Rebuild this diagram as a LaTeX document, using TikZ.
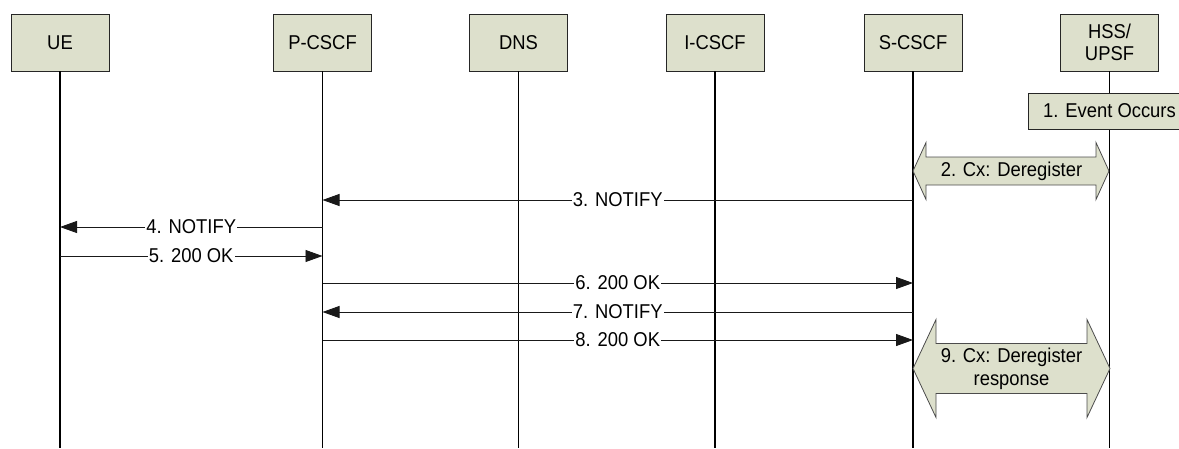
\documentclass[tikz,border=0pt]{standalone}
\usepackage{fontspec}
\setmainfont{Liberation Sans}[FakeStretch=0.92]
\usetikzlibrary{arrows.meta}
\definecolor{boxfill}{RGB}{221,224,204}
\newcommand\dblarr[6]{% x1, x2, y, head half-height, shaft half-height, head length
  \draw[dbl] (#1,#3) -- (#1+#6,#3-#4) -- (#1+#6,#3-#5) -- (#2-#6,#3-#5) -- (#2-#6,#3-#4)
    -- (#2,#3) -- (#2-#6,#3+#4) -- (#2-#6,#3+#5) -- (#1+#6,#3+#5) -- (#1+#6,#3+#4) -- cycle;}
\begin{document}
\begin{tikzpicture}[x=1pt,y=-1pt,
  entity/.style={draw=black!85, fill=boxfill, minimum width=98pt, minimum height=57pt,
    inner sep=0pt, align=center, font=\fontsize{20}{22}\selectfont},
  life/.style={draw=black, line width=1.3pt},
  msg/.style={draw=black!90, line width=0.9pt, -{Triangle[length=17pt,width=12pt]}},
  lbl/.style={fill=white, inner sep=1pt, font=\fontsize{20}{22}\selectfont},
  dbl/.style={draw=black!70, fill=boxfill, line width=0.8pt},
  dbltext/.style={align=center, inner sep=0pt, font=\fontsize{20}{23}\selectfont}]
\useasboundingbox (0,0) rectangle (1179,448);
% entities
\node[entity] (ue)    at (60,42.5)    {UE};
\node[entity] (pcscf) at (322.5,42.5) {P-CSCF};
\node[entity] (dns)   at (518.5,42.5) {DNS};
\node[entity] (icscf) at (715,42.5)   {I-CSCF};
\node[entity] (scscf) at (913,42.5)   {S-CSCF};
\node[entity] (hss)   at (1109.5,42.5) {HSS/\\UPSF};
% lifelines
\foreach \n in {ue,pcscf,dns,icscf,scscf,hss}
  \draw[life] (\n.south) -- (\n.south |- 0,448);
% event
\node[draw=black!85, fill=boxfill, minimum width=163pt, minimum height=36pt, inner sep=0pt,
  font=\fontsize{20}{22}\selectfont] (ev) at (1109.5,111) {1. Event Occurs};
% Cx deregister
\dblarr{913}{1109}{171}{28.5}{14}{13}
\node[dbltext] (cx2) at (1011.5,171) {2. Cx: Deregister};
% messages
\coordinate (y3) at (0,200);
\coordinate (y4) at (0,227);
\coordinate (y5) at (0,256);
\coordinate (y6) at (0,283);
\coordinate (y7) at (0,312);
\coordinate (y8) at (0,340);
\draw[msg] (scscf |- y3) -- node[lbl] {3. NOTIFY} (pcscf |- y3);
\draw[msg] (pcscf |- y4) -- node[lbl] {4. NOTIFY} (ue |- y4);
\draw[msg] (ue |- y5) -- node[lbl] {5. 200 OK} (pcscf |- y5);
\draw[msg] (pcscf |- y6) -- node[lbl] {6. 200 OK} (scscf |- y6);
\draw[msg] (scscf |- y7) -- node[lbl] {7. NOTIFY} (pcscf |- y7);
\draw[msg] (pcscf |- y8) -- node[lbl] {8. 200 OK} (scscf |- y8);
% Cx deregister response
\dblarr{913}{1110}{368.5}{49}{25}{23}
\node[dbltext] (cx9) at (1011.5,368.5) {9. Cx: Deregister\\response};
\end{tikzpicture}
\end{document}
